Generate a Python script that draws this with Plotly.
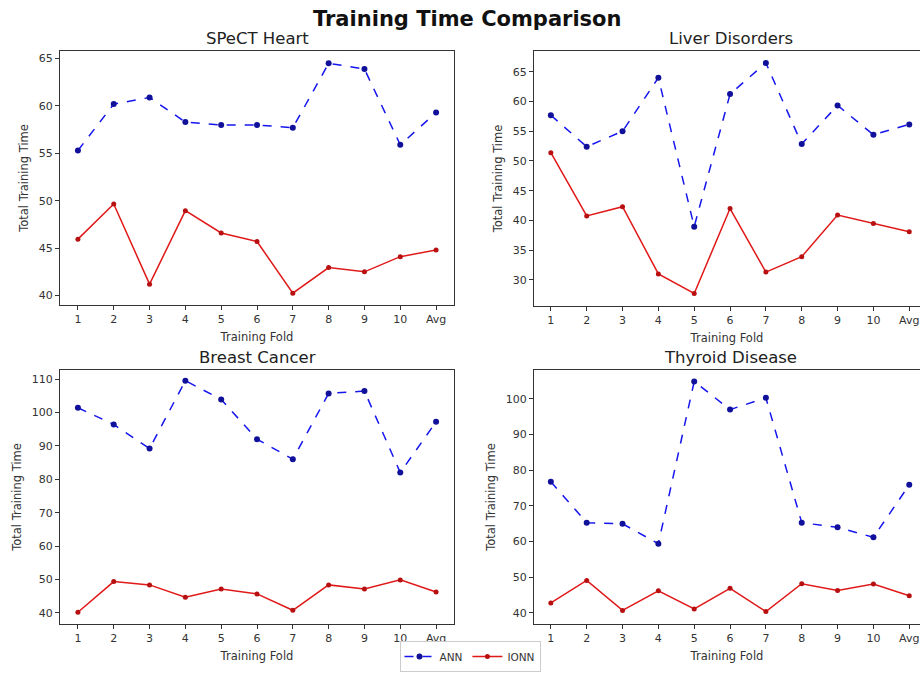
import plotly.graph_objects as go

folds = ["1", "2", "3", "4", "5", "6", "7", "8", "9", "10", "Avg"]

titles = ["SPeCT Heart", "Liver Disorders", "Breast Cancer", "Thyroid Disease"]

spect_ann = [55.3, 60.2, 60.9, 58.3, 58.0, 58.0, 57.7, 64.5, 63.9, 55.9, 59.3]
spect_ionn = [45.95, 49.65, 41.2, 48.95, 46.6, 45.7, 40.25, 42.95, 42.5, 44.1, 44.8]

liver_ann = [57.7, 52.4, 55.0, 64.0, 38.95, 61.25, 66.5, 52.85, 59.35, 54.4, 56.15]
liver_ionn = [51.4, 40.75, 42.3, 31.0, 27.7, 42.0, 31.3, 33.9, 40.9, 39.5, 38.1]

breast_ann = [101.4, 96.4, 89.2, 109.5, 103.9, 92.0, 86.0, 105.7, 106.4, 82.0, 97.2]
breast_ionn = [40.2, 49.4, 48.4, 44.7, 47.2, 45.7, 40.8, 48.4, 47.2, 49.9, 46.3]

thyroid_ann = [76.8, 65.3, 65.0, 59.4, 104.9, 97.0, 100.3, 65.3, 64.0, 61.2, 75.9]
thyroid_ionn = [42.8, 49.1, 40.7, 46.2, 41.1, 46.9, 40.4, 48.2, 46.3, 48.1, 44.8]

ann_series = [spect_ann, liver_ann, breast_ann, thyroid_ann]
ionn_series = [spect_ionn, liver_ionn, breast_ionn, thyroid_ionn]

W, H = 920, 673
# pixel boxes (left, right, top, bottom)
boxes = [(60, 454, 51, 305), (534, 920, 51, 306), (60, 454, 370, 624), (534, 920, 370, 624)]
yranges = [[39.0, 65.8], [25.6, 68.5], [36.7, 112.7], [36.9, 108.1]]
ytick_vals = [[40, 45, 50, 55, 60, 65], [30, 35, 40, 45, 50, 55, 60, 65],
              [40, 50, 60, 70, 80, 90, 100, 110], [40, 50, 60, 70, 80, 90, 100]]
xranges = [[-0.5, 10.5], [-0.47, 10.3], [-0.5, 10.5], [-0.47, 10.3]]

FONT = "DejaVu Sans"
fig = go.Figure()
annotations = []
layout_axes = {}
for i in range(4):
    xa = "x" if i == 0 else f"x{i+1}"
    ya = "y" if i == 0 else f"y{i+1}"
    fig.add_trace(go.Scatter(
        x=folds, y=ann_series[i], mode="lines+markers", name="ANN",
        line=dict(color="#1515ee", width=1.5, dash="dash"),
        marker=dict(color="#10109a", size=6),
        xaxis=xa, yaxis=ya, showlegend=(i == 0), legendgroup="ANN"))
    fig.add_trace(go.Scatter(
        x=folds, y=ionn_series[i], mode="lines+markers", name="IONN",
        line=dict(color="#e01818", width=1.5),
        marker=dict(color="#b81010", size=5),
        xaxis=xa, yaxis=ya, showlegend=(i == 0), legendgroup="IONN"))
    l, r, t, b = boxes[i]
    right_panel = i in (1, 3)
    xkey = "xaxis" if i == 0 else f"xaxis{i+1}"
    ykey = "yaxis" if i == 0 else f"yaxis{i+1}"
    layout_axes[xkey] = dict(
        domain=[l / W, r / W], anchor=ya, type="category", range=xranges[i],
        automargin=False,
        showgrid=False, zeroline=False, showline=True, linecolor="#333", linewidth=1,
        mirror=True, ticks="outside", ticklen=4, tickcolor="#333",
        tickfont=dict(family=FONT, size=11, color="#333"),
        title=dict(text="Training Fold", font=dict(family=FONT, size=11.5, color="#333"), standoff=7))
    layout_axes[ykey] = dict(
        domain=[1 - b / H, 1 - t / H], anchor=xa, range=yranges[i],
        tickvals=ytick_vals[i], automargin=False,
        showgrid=False, zeroline=False, showline=True, linecolor="#333", linewidth=1,
        mirror=(not right_panel), ticks="outside", ticklen=4, tickcolor="#333",
        tickfont=dict(family=FONT, size=11, color="#333"),
        title=dict(text="Total Training Time", font=dict(family=FONT, size=11.5, color="#333"), standoff=7))
    annotations.append(dict(
        text=titles[i], x=(l + (r if not right_panel else 927)) / 2 / W, y=1 - (t - 1) / H,
        xref="paper", yref="paper", xanchor="center", yanchor="bottom", showarrow=False,
        font=dict(family=FONT, size=16.5, color="#222")))

annotations.append(dict(
    text="<b>Training Time Comparison</b>", x=467 / W, y=1 - 5 / H, xref="paper", yref="paper",
    xanchor="center", yanchor="top", showarrow=False, font=dict(family=FONT, size=21, color="#111")))

fig.update_layout(
    width=W, height=H, margin=dict(l=0, r=0, t=0, b=0, autoexpand=False),
    paper_bgcolor="white", plot_bgcolor="white", hovermode=False,
    annotations=annotations,
    legend=dict(orientation="h", x=470 / W, y=1 / H, xanchor="center", yanchor="bottom",
                bordercolor="#ccc", borderwidth=1, bgcolor="white",
                font=dict(family=FONT, size=10.5, color="#333"), itemwidth=30,
                tracegroupgap=0),
    **layout_axes)

fig.write_html("out.html", config={"displayModeBar": False},
               post_script="document.body.style.margin='0';document.body.style.overflow='hidden';")
